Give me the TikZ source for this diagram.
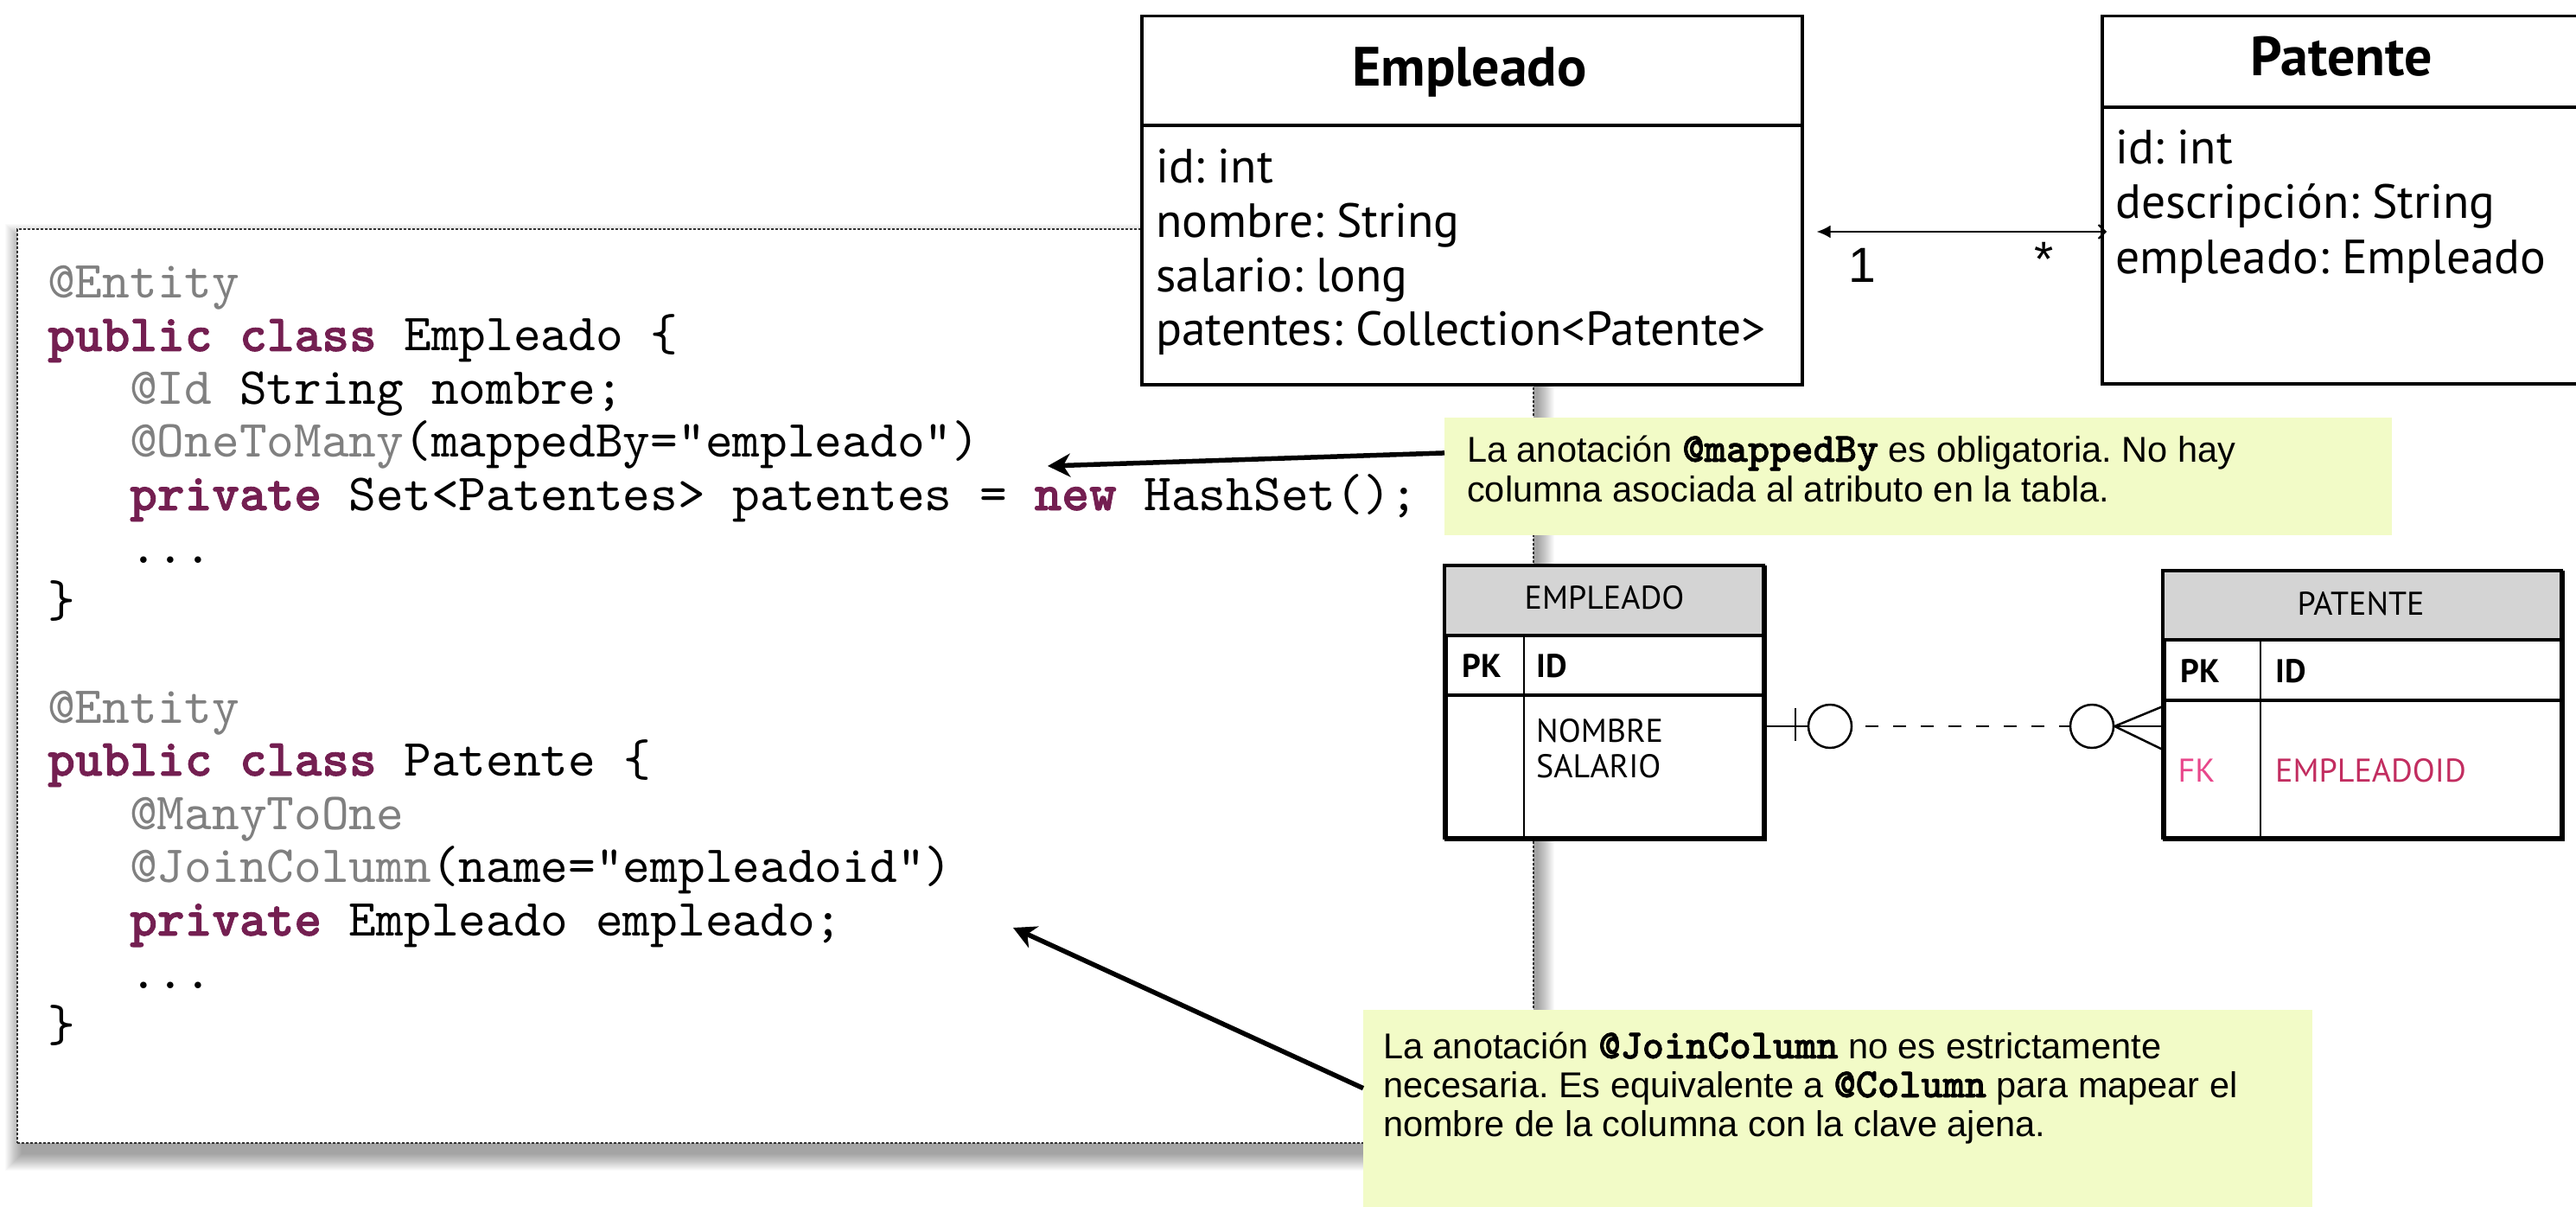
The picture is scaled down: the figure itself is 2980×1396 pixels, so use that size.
\documentclass[tikz,border=0pt]{standalone}
\usepackage{fontspec}
\setmainfont{Liberation Sans}
\newfontfamily\codefont{lmmono10-regular.otf}[BoldFont=lmmonolt10-bold.otf, BoldFeatures={FakeBold=1.5}]
\newfontfamily\gillfont{PT Sans}
\usetikzlibrary{arrows.meta,calc}
\definecolor{kw}{HTML}{741F51}
\definecolor{anno}{HTML}{808080}
\definecolor{notebg}{HTML}{F2FBC7}
\definecolor{hdr}{HTML}{D4D4D4}
\definecolor{fkpink}{HTML}{E8478B}
\definecolor{fkred}{HTML}{C22D60}
\newcommand{\kwd}[1]{{\bfseries\color{kw}#1}}
\newcommand{\ann}[1]{{\color{anno}#1}}
\newcommand{\ncode}[1]{{\codefont\bfseries\fontsize{48}{46}\selectfont #1}}
\frenchspacing
\begin{document}
\begin{tikzpicture}[x=1pt,y=-1pt,
  codeline/.style={anchor=base west, inner sep=0pt, font=\codefont\fontsize{60.4}{61.5}\selectfont},
  umltitle/.style={anchor=base, inner sep=0pt, font=\gillfont\bfseries\fontsize{64}{70}\selectfont},
  umlattr/.style={anchor=base west, inner sep=0pt, font=\gillfont\fontsize{55.5}{63}\selectfont},
  umlbox/.style={draw=black, line width=3.5pt, fill=white, rectangle, inner sep=0pt, anchor=north west},
  notebox/.style={fill=notebg, rectangle, inner sep=0pt, anchor=north west},
  notetext/.style={anchor=base west, inner sep=0pt, font=\fontsize{41.5}{46}\selectfont},
  tblbox/.style={draw=black, line width=4pt, fill=white, rectangle, inner sep=0pt, anchor=north west},
  tbltext/.style={inner sep=0pt, font=\gillfont\fontsize{38}{44}\selectfont},
  tblbold/.style={inner sep=0pt, font=\gillfont\bfseries\fontsize{38}{44}\selectfont},
  callout/.style={line width=5.5pt, -{Stealth[length=26pt,width=27pt,inset=8pt]}},
  erline/.style={line width=2.5pt},
  mult/.style={inner sep=0pt, font=\fontsize{57}{60}\selectfont}]
\fill[white] (0,0) rectangle (2980,1396);
\useasboundingbox (0,0) rectangle (2980,1396);

% ---- code box with shadow ----
\foreach \i in {0,...,19}{
  \fill[black,opacity=0.02] (25-\i,278-\i) rectangle (1779+\i,1335+\i);
}
\node[draw=black!80, line width=2pt, dash pattern=on 3pt off 2pt, fill=white,
      rectangle, inner sep=0pt, anchor=north west,
      minimum width=1754pt, minimum height=1057pt] (codebox) at (19,264) {};

\node[codeline] (l1)  at (55,345)  {\ann{@Entity}};
\node[codeline] (l2)  at (55,406)  {\kwd{public class} Empleado \{};
\node[codeline] (l3)  at (150,467) {\ann{@Id} String nombre;};
\node[codeline] (l4)  at (150,528) {\ann{@OneToMany}(mappedBy=”empleado”)};
\node[codeline] (l5)  at (150,590) {\kwd{private} Set<Patentes> patentes = \kwd{new} HashSet();};
\node[codeline] (l6)  at (150,651) {...};
\node[codeline] (l7)  at (55,713)  {\}};
\node[codeline] (l8)  at (55,836)  {\ann{@Entity}};
\node[codeline] (l9)  at (55,897)  {\kwd{public class} Patente \{};
\node[codeline] (l10) at (150,959) {\ann{@ManyToOne}};
\node[codeline] (l11) at (150,1020){\ann{@JoinColumn}(name=”empleadoid”)};
\node[codeline] (l12) at (150,1082){\kwd{private} Empleado empleado;};
\node[codeline] (l13) at (150,1143){...};
\node[codeline] (l14) at (55,1204) {\}};

% ---- UML classes ----
\node[umlbox, minimum width=764pt, minimum height=426pt] (empClass) at (1319,17) {};
\draw[line width=3.5pt] (empClass.west |- 0,145) -- (empClass.east |- 0,145);
\node[umltitle] (empTitle) at (1700,100) {Empleado};
\node[umlattr] (ea1) at (1337,212) {id: int};
\node[umlattr] (ea2) at (1337,275) {nombre: String};
\node[umlattr] (ea3) at (1337,338) {salario: long};
\node[umlattr] (ea4) at (1337,400) {patentes: Collection<Patente>};

\node[umlbox, minimum width=560pt, minimum height=425pt] (patClass) at (2430,17) {};
\draw[line width=3.5pt] (patClass.west |- 0,124) -- (patClass.east |- 0,124);
\node[umltitle] (patTitle) at (2709,88) {Patente};
\node[umlattr] (pa1) at (2447,190) {id: int};
\node[umlattr] (pa2) at (2447,253) {descripción: String};
\node[umlattr] (pa3) at (2447,317) {empleado: Empleado};

\coordinate (aY) at (0,268);
\draw[line width=2.5pt, {Latex[length=16pt,width=15pt]}-{Straight Barb[length=8pt,width=16pt,line width=2pt]}]
  ([xshift=15pt]empClass.east |- aY) -- ([xshift=7pt]patClass.west |- aY);
\node[mult] (m1) at (2154,307) {1};
\node[mult] (m2) at (2365,300) {*};

% ---- notes ----
\node[notebox, minimum width=1096pt, minimum height=136pt] (note1) at (1671,483) {};
\node[notetext] (n1a) at (1697,534) {La anotación \ncode{@mappedBy} es obligatoria. No hay};
\node[notetext] (n1b) at (1697,580) {columna asociada al atributo en la tabla.};

\node[notebox, minimum width=1098pt, minimum height=232pt] (note2) at (1577,1168) {};
\node[notetext] (n2a) at (1600,1224) {La anotación \ncode{@JoinColumn} no es estrictamente};
\node[notetext] (n2b) at (1600,1269) {necesaria. Es equivalente a \ncode{@Column} para mapear el};
\node[notetext] (n2c) at (1600,1314) {nombre de la columna con la clave ajena.};

\coordinate (tip1) at (1212,539);
\coordinate (tip2) at (1172,1073);
\draw[callout] ($(note1.north west)!0.3!(note1.south west)$) -- (tip1);
\draw[callout] ($(note2.north west)!0.39!(note2.south west)$) -- (tip2);

% ---- ER tables ----
\node[tblbox, minimum width=369pt, minimum height=315pt] (empT) at (1671,654) {};
\fill[hdr] (1671,654) rectangle (2040,735);
\draw[line width=4pt] (1671,654) rectangle (2040,969);
\draw[line width=4pt] (1671,735) -- (2040,735);
\draw[line width=4pt] (1671,804) -- (2040,804);
\draw[line width=2pt] (1763,735) -- (1763,969);
\node[tbltext, anchor=base] (eh) at (1856,704) {EMPLEADO};
\node[tblbold, anchor=base] (epk) at (1714,783) {PK};
\node[tblbold, anchor=base west] (eid) at (1777,783) {ID};
\node[tbltext, anchor=base west] (enom) at (1777,858) {NOMBRE};
\node[tbltext, anchor=base west] (esal) at (1777,899) {SALARIO};

\node[tblbox, minimum width=461pt, minimum height=309pt] (patT) at (2502,660) {};
\fill[hdr] (2502,660) rectangle (2963,740);
\draw[line width=4pt] (2502,660) rectangle (2963,969);
\draw[line width=4pt] (2502,740) -- (2963,740);
\draw[line width=4pt] (2502,810) -- (2963,810);
\draw[line width=2pt] (2615,740) -- (2615,969);
\node[tbltext, anchor=base] (ph) at (2731,711) {PATENTE};
\node[tblbold, anchor=base] (ppk) at (2545,789) {PK};
\node[tblbold, anchor=base west] (pid) at (2632,789) {ID};
\node[tbltext, anchor=base, text=fkpink] (pfk) at (2541,904) {FK};
\node[tbltext, anchor=base west, text=fkred] (pfkid) at (2632,904) {EMPLEADOID};

% ---- ER relationship ----
\node[draw, erline, circle, minimum size=50pt, inner sep=0pt] (circL) at (2117,840) {};
\node[draw, erline, circle, minimum size=50pt, inner sep=0pt] (circR) at (2420,840) {};
\draw[erline] (empT.east |- circL) -- (circL.west);
\draw[erline] (2077,819) -- (2077,857);
\draw[erline, dash pattern=on 15pt off 17pt, dash phase=-15pt] (circL.east) -- (circR.west);
\draw[erline] (circR.east) -- (patT.west |- circR);
\draw[erline] (circR.east) -- ([yshift=23pt]patT.west |- circR);
\draw[erline] (circR.east) -- ([yshift=-27pt]patT.west |- circR);
\end{tikzpicture}
\end{document}
